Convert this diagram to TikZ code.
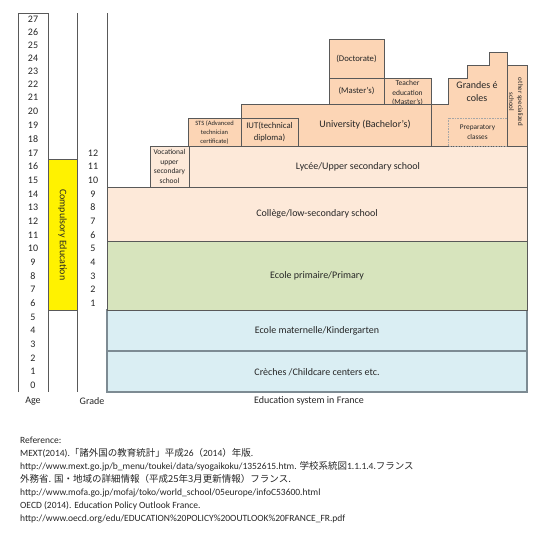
\documentclass[tikz,border=0pt]{standalone}
\usepackage{fontspec}
\setmainfont{Carlito}
\newfontfamily\jpfont{Noto Sans CJK JP}
\usepackage{tikz}
\definecolor{bluefill}{HTML}{DAEEF3}
\definecolor{greenfill}{HTML}{D7E4BD}
\definecolor{peachfill}{HTML}{FDE9D9}
\definecolor{orangefill}{HTML}{FCD5B5}
\definecolor{edgegray}{HTML}{595959}
\definecolor{blueedge}{HTML}{7D8B93}
\definecolor{textgray}{HTML}{262626}

\begin{document}
\begin{tikzpicture}[x=1pt, y=-1pt,
    edge/.style={draw=edgegray, line width=0.8pt},
    bluebox/.style={draw=blueedge, line width=1.1pt, fill=bluefill},
    prepline/.style={draw=gray!70, line width=0.6pt, densely dotted},
    lbl/.style={text=textgray, align=center, inner sep=0pt},
    big/.style={lbl, font=\fontsize{10}{13}\selectfont},
    mid/.style={lbl, font=\fontsize{8.7}{11.5}\selectfont},
    small/.style={lbl, font=\fontsize{7.5}{9.5}\selectfont}]
    \useasboundingbox (0,0) rectangle (550,538);

    % Age, compulsory and grade columns
    \draw[edge] (18,392) -- (18,13) -- (48,13) -- (48,392);
    \draw[edge] (77,13) -- (77,392);
    \draw[edge] (107,13) -- (107,392);
    \draw[edge, fill=yellow] (48,159.7) rectangle (77,310);
    \node[big, rotate=-90] (compulsory) at (62.5,234.8) {Compulsory Education};
    \foreach \a in {0,...,27} {
        \pgfmathsetmacro\yy{\a<18 ? 392-13.667*(\a+0.5) : (\a<21 ? 146-14*(\a-17.5) : 104-13*(\a-20.5))}
        \node[big] (age\a) at (33,\yy) {\a};
    }
    \foreach \g in {1,...,12}
        \node[big] (grade\g) at (93,{392-13.667*(\g+5.5)}) {\g};
    \node[big] (agehead) at (33,401) {Age};
    \node[big] (gradehead) at (92,401) {Grade};
    \node[big] (title) at (309,401) {Education system in France};

    % Basic schooling
    \draw[bluebox] (107,351) rectangle (527,392);
    \draw[bluebox] (107,310) rectangle (527,351);
    \draw[edge, fill=greenfill] (107,241.7) rectangle (527,310);
    \draw[edge, fill=peachfill] (107,187) rectangle (527,241.7);
    \draw[edge, fill=peachfill] (189,146) rectangle (527,187);
    \draw[edge, fill=peachfill] (150,146) rectangle (189,187);
    \node[big] (creche) at (317,372) {Crèches /Childcare centers etc.};
    \node[big] (maternelle) at (317,331) {Ecole maternelle/Kindergarten};
    \node[big] (primaire) at (317,276) {Ecole primaire/Primary};
    \node[big] (college) at (317,214) {Collège/low-secondary school};
    \node[big] (lycee) at (358,167) {Lycée/Upper secondary school};
    \node[small] (vocational) at (169.5,166.5) {Vocational\\upper\\secondary\\school};

    % Higher education
    \draw[edge, fill=orangefill] (384,78) rectangle (431,104);
    \node[small] (teacher) at (407.5,93) {Teacher\\education\\(Master’s)};
    \draw[edge, fill=orangefill] (188,118) rectangle (241,146);
    \node[lbl, font=\fontsize{6.5}{9.2}\selectfont] (sts) at (214.5,132.5) {STS (Advanced\\technician\\certificate)};
    \draw[edge, fill=orangefill] (241,104) rectangle (431,146);
    \draw[edge] (241,118) rectangle (298,146);
    \node[mid] (iut) at (269.5,132) {IUT(technical\\diploma)};
    \node[big] (university) at (365,125) {University (Bachelor’s)};
    \draw[edge, fill=orangefill] (329,39) rectangle (384,104);
    \draw[edge] (329,78) -- (384,78);
    \node[mid] (masters) at (356.5,91) {(Master’s)};
    \node[mid] (doctorate) at (356.5,58.5) {(Doctorate)};
    \draw[edge, fill=orangefill] (431,146) -- (431,104) -- (448,104) -- (448,78) -- (467,78)
        -- (467,65) -- (489,65) -- (489,52) -- (507,52) -- (507,146) -- cycle;
    \node[big] (grandes) at (477,92) {Grandes é\\coles};
    \draw[prepline] (448,118) rectangle (507,146);
    \node[lbl, font=\fontsize{7.3}{10.6}\selectfont] (prepa) at (477.5,132) {Preparatory\\classes};
    \draw[edge, fill=orangefill] (507,65) rectangle (527,146);
    \node[lbl, rotate=-90, font=\fontsize{7}{9}\selectfont] (other) at (516,102) {other specialized\\school};

    % Reference
    \node[anchor=north west, align=left, inner sep=0pt, text=textgray,
        font=\fontsize{9.5}{13}\selectfont] (refs) at (20,437) {Reference:\\
        MEXT(2014).{\jpfont 「諸外国の教育統計」平成}26{\jpfont （}2014{\jpfont ）年版}.\\
        http://www.mext.go.jp/b\_menu/toukei/data/syogaikoku/1352615.htm. {\jpfont 学校系統図}1.1.1.4.{\jpfont フランス}\\
        {\jpfont 外務省. 国・地域の詳細情報（平成25年3月更新情報）フランス.}\\
        http://www.mofa.go.jp/mofaj/toko/world\_school/05europe/infoC53600.html\\
        OECD (2014). Education Policy Outlook France.\\
        http://www.oecd.org/edu/EDUCATION\%20POLICY\%20OUTLOOK\%20FRANCE\_FR.pdf};
\end{tikzpicture}
\end{document}
